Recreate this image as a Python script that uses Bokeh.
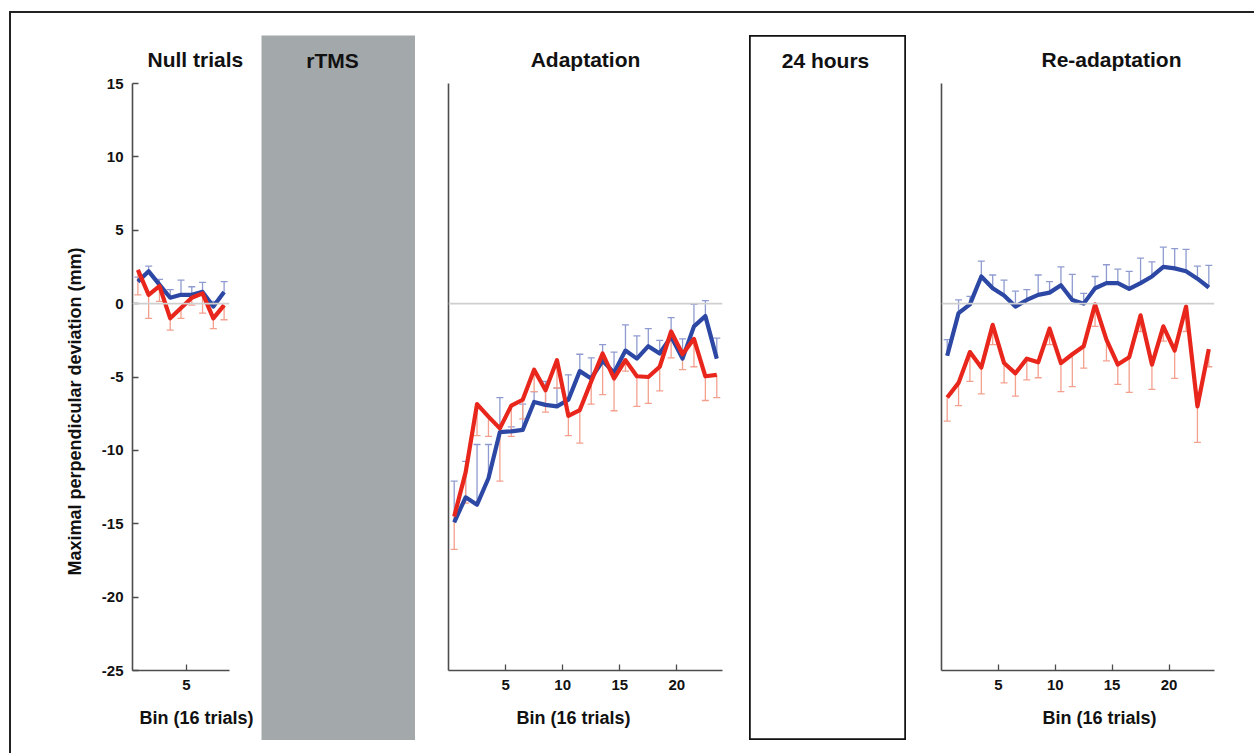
import numpy as np
from bokeh.plotting import figure
from bokeh.models import ColumnDataSource, Whisker, TeeHead, Span, Title, FixedTicker
from bokeh.layouts import row, column
from bokeh.core.properties import value
from bokeh.embed import file_html
from bokeh.resources import INLINE

# ---------------- data ----------------
null_bins = [1, 2, 3, 4, 5, 6, 7, 8, 9]
null_blue = [1.5, 2.2, 1.3, 0.4, 0.6, 0.6, 0.8, -0.2, 0.8]
null_blue_err = [0.3, 0.35, 0.35, 0.55, 1.0, 0.55, 0.65, 0.35, 0.7]
null_red = [2.3, 0.6, 1.2, -1.0, -0.3, 0.4, 0.7, -1.0, -0.1]
null_red_err = [1.7, 1.6, 1.05, 0.8, 0.7, 0.5, 1.35, 0.7, 1.0]

adapt_bins = list(range(1, 25))
adapt_blue = [-14.9, -13.2, -13.7, -11.9, -8.75, -8.7, -8.6, -6.7, -6.9, -7.0, -6.55, -4.6,
              -5.1, -3.9, -4.7, -3.2, -3.75, -2.9, -3.4, -2.25, -3.75, -1.55, -0.85, -3.75]
adapt_blue_err = [2.8, 2.45, 4.1, 2.3, 2.35, 0.3, 1.75, 0.7, 1.6, 1.25, 1.7, 1.15,
                  1.4, 1.1, 1.4, 1.75, 1.55, 1.2, 0.9, 1.3, 1.35, 1.5, 1.05, 1.4]
adapt_red = [-14.5, -11.5, -6.85, -7.7, -8.5, -6.95, -6.55, -4.5, -5.9, -3.85, -7.65, -7.25,
             -5.3, -3.4, -5.1, -3.85, -4.95, -5.0, -4.3, -1.9, -3.45, -2.4, -4.95, -4.85]
adapt_red_err = [2.25, 2.1, 2.15, 1.35, 3.6, 2.1, 1.3, 1.5, 1.5, 1.9, 1.35, 2.25,
                 1.55, 2.8, 2.2, 0.75, 2.05, 1.8, 1.65, 1.8, 1.05, 1.9, 1.65, 1.55]

readapt_bins = list(range(1, 25))
readapt_blue = [-3.55, -0.65, -0.05, 1.85, 1.05, 0.55, -0.2, 0.25, 0.6, 0.75, 1.25, 0.25,
                0.0, 1.05, 1.4, 1.4, 1.0, 1.4, 1.85, 2.5, 2.4, 2.2, 1.7, 1.1]
readapt_blue_err = [1.1, 0.9, 0.55, 1.05, 0.9, 1.05, 1.05, 0.7, 1.35, 0.75, 1.25, 1.75,
                    0.7, 0.8, 1.25, 0.95, 1.2, 1.7, 1.0, 1.35, 1.35, 1.5, 0.85, 1.5]
readapt_red = [-6.4, -5.4, -3.3, -4.35, -1.45, -4.05, -4.75, -3.75, -4.0, -1.7, -4.05, -3.45,
               -2.9, -0.05, -2.45, -4.15, -3.65, -0.8, -4.15, -1.55, -3.2, -0.2, -7.0, -3.1]
readapt_red_err = [1.6, 1.55, 2.0, 1.8, 1.35, 1.35, 1.55, 1.45, 1.05, 1.1, 1.95, 2.2,
                   1.5, 1.5, 1.45, 1.35, 2.4, 1.1, 1.7, 1.0, 1.9, 1.7, 2.45, 1.2]

y_ticks = [-25, -20, -15, -10, -5, 0, 5, 10, 15]
null_xticks = [5]
adapt_xticks = [5, 10, 15, 20]

titles = ["Null trials", "rTMS", "Adaptation", "24 hours", "Re-adaptation"]
x_label = "Bin (16 trials)"
y_label = "Maximal perpendicular deviation (mm)"

# ---------------- style ----------------
FONT = "Liberation Sans"
BLUE = "#2c48a4"
RED = "#e8261c"
BLUE_ERR = "#8f9bd0"
RED_ERR = "#f3a08e"
AXIS = "#4d4d4d"
GREY_BOX = "#a3a8ab"
TXT = "#111111"

Y_START, Y_END = -25, 15
H = 740
TOP = 70
FRAME_H = 587
BOTTOM = H - TOP - FRAME_H


def panel(width, left, right, n):
    p = figure(width=width, height=H, x_range=(0, n), y_range=(Y_START, Y_END),
               min_border_left=left, min_border_right=right,
               min_border_top=TOP, min_border_bottom=BOTTOM,
               output_backend="svg", toolbar_location=None)
    p.outline_line_color = None
    p.grid.visible = False
    p.background_fill_color = "white"
    p.border_fill_color = "white"
    for ax in (p.xaxis[0], p.yaxis[0]):
        ax.axis_line_color = AXIS
        ax.axis_line_width = 1.6
        ax.major_tick_line_color = AXIS
        ax.major_tick_line_width = 1.3
        ax.major_tick_in = 6
        ax.major_tick_out = 0
        ax.minor_tick_line_color = None
        ax.major_label_text_font = FONT
        ax.major_label_text_font_style = "bold"
        ax.major_label_text_font_size = "15px"
        ax.major_label_text_color = TXT
        ax.major_label_standoff = 9
    p.add_layout(Span(location=0, dimension="width", line_color="#cfcfcf", line_width=1.6))
    return p


def set_title(p, text, align="left", offset=0):
    p.title.text = text
    p.title.align = align
    p.title.offset = offset
    p.title.text_font = FONT
    p.title.text_font_style = "bold"
    p.title.text_font_size = "21px"
    p.title.text_color = TXT
    p.title.standoff = 26


def side_label(p, text, side, offset, standoff):
    t = Title(text=text, align="left", offset=offset, standoff=standoff,
              text_font=FONT, text_font_style="bold", text_font_size="18px", text_color=TXT)
    p.add_layout(t, side)


def draw_series(p, bins, vals, errs, err_color, upward):
    xs = [b - 0.5 for b in bins]
    if upward:
        lo, hi = vals, [v + e for v, e in zip(vals, errs)]
    else:
        lo, hi = [v - e for v, e in zip(vals, errs)], vals
    src = ColumnDataSource(dict(x=xs, y=vals, lo=lo, hi=hi))
    head = TeeHead(size=7, line_color=err_color, line_width=1.3)
    w = Whisker(source=src, base="x", lower="lo", upper="hi", dimension="height",
                line_color=err_color, line_width=1.3,
                upper_head=head if upward else None,
                lower_head=None if upward else head)
    p.add_layout(w)
    return src


def lines(p, bins, blue, blue_err, red, red_err):
    sb = draw_series(p, bins, blue, blue_err, BLUE_ERR, True)
    sr = draw_series(p, bins, red, red_err, RED_ERR, False)
    p.line("x", "y", source=sb, line_color=BLUE, line_width=4.2, line_join="round")
    p.line("x", "y", source=sr, line_color=RED, line_width=4.2, line_join="round")


# ---- Null trials ----
pA = panel(250, 121, 32, 9)
pA.yaxis.ticker = FixedTicker(ticks=y_ticks)
pA.yaxis.major_label_overrides = {t: str(t) for t in y_ticks}
pA.xaxis.ticker = FixedTicker(ticks=null_xticks)
lines(pA, null_bins, null_blue, null_blue_err, null_red, null_red_err)
set_title(pA, titles[0], "left", 15)
side_label(pA, x_label, "below", 7, 26)
side_label(pA, y_label, "left", 95, 28)


def box_fig(width, text, text_x_px, fill, outline):
    p = figure(width=width, height=705, x_range=(0, width), y_range=(0, 705),
               min_border_left=0, min_border_right=0, min_border_top=0, min_border_bottom=0,
               output_backend="svg", toolbar_location=None, margin=(22, 0, 0, 0))
    p.axis.visible = False
    p.grid.visible = False
    p.background_fill_color = fill
    p.border_fill_color = fill
    if outline:
        p.outline_line_color = "#111111"
        p.outline_line_width = 2.5
    else:
        p.outline_line_color = None
    p.text(x=[text_x_px], y=[705 - 25], text=[text], text_font=value(FONT),
           text_font_style="bold", text_font_size="21px", text_align="center",
           text_baseline="middle", text_color=TXT)
    return p


# ---- rTMS box ----
pB = box_fig(154, titles[1], 332 - 261, GREY_BOX, False)

# ---- Adaptation ----
pC = panel(334, 33, 27, 24)
pC.yaxis.ticker = FixedTicker(ticks=[])
pC.xaxis.ticker = FixedTicker(ticks=adapt_xticks)
lines(pC, adapt_bins, adapt_blue, adapt_blue_err, adapt_red, adapt_red_err)
set_title(pC, titles[2], "center", 0)
side_label(pC, x_label, "below", 68, 26)

# ---- 24 hours box ----
pD = box_fig(157, titles[3], 825 - 749, "white", True)

# ---- Re-adaptation ----
pE = panel(348, 35, 40, 24)
pE.yaxis.ticker = FixedTicker(ticks=[])
pE.xaxis.ticker = FixedTicker(ticks=adapt_xticks)
lines(pE, readapt_bins, readapt_blue, readapt_blue_err, readapt_red, readapt_red_err)
set_title(pE, titles[4], "left", 100)
side_label(pE, x_label, "below", 101, 26)

layout = row(pA, column(pB), pC, column(pD), pE, spacing=0, margin=(11, 0, 0, 9),
             styles={"border-top": "2px solid #222222", "border-left": "2px solid #222222"})

open("out.html", "w").write(file_html(layout, INLINE))
